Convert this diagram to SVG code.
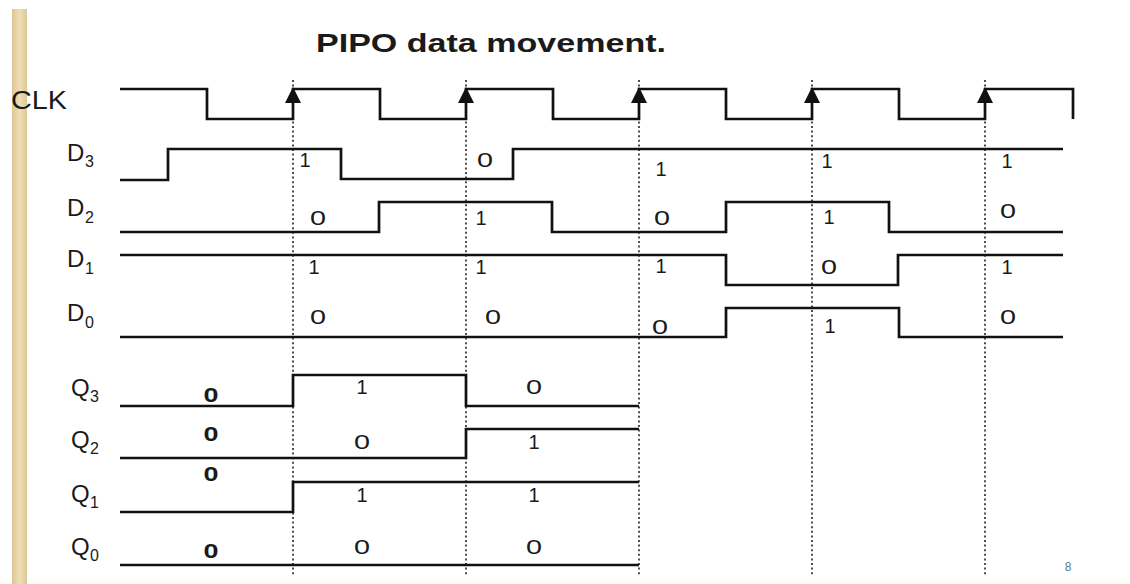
<svg xmlns="http://www.w3.org/2000/svg" width="1130" height="584" viewBox="0 0 1130 584">
  <style>
    .wave { fill: none; stroke: #111; stroke-width: 2.7; stroke-linejoin: miter; stroke-linecap: butt; }
    .edge { fill: none; stroke: #222; stroke-width: 1.6; stroke-dasharray: 2 2.6; }
    .txt  { font-family: "Liberation Sans", Arial, Helvetica, sans-serif; fill: #1a1a1a; }
    .sig  { font-size: 24px; }
    .sub  { font-size: 16px; }
    .val  { font-size: 20px; text-anchor: middle; }
    .init { font-size: 20px; font-weight: bold; text-anchor: middle; }
    .arrow { fill: #111; }
  </style>
  <defs>
    <linearGradient id="barShade" x1="0" y1="0" x2="1" y2="0">
      <stop offset="0" stop-color="#dcc592"/>
      <stop offset="0.5" stop-color="#eedeb6"/>
      <stop offset="1" stop-color="#ddc898"/>
    </linearGradient>
    <!-- rising-edge marker: filled upward triangle centred on its tip -->
    <path id="edgeArrow" class="arrow" d="M0,-1 L-8,15 L8,15 Z"/>
  </defs>

  <!-- page background -->
  <rect x="0" y="0" width="1130" height="584" fill="#ffffff"/>
  <rect x="0" y="579" width="1130" height="5" fill="#fdfcf5"/>
  <rect x="12" y="9" width="15" height="575" fill="url(#barShade)"/>

  <!-- title -->
  <text class="txt" x="316" y="52" font-size="26" font-weight="bold" textLength="350" lengthAdjust="spacingAndGlyphs">PIPO data movement.</text>

  <!-- sampling instants at each rising clock edge -->
  <g id="connectors">
    <line class="edge" x1="293" y1="80" x2="293" y2="575"/>
    <line class="edge" x1="466" y1="80" x2="466" y2="575"/>
    <line class="edge" x1="639" y1="80" x2="639" y2="575"/>
    <line class="edge" x1="812" y1="80" x2="812" y2="575"/>
    <line class="edge" x1="985" y1="80" x2="985" y2="575"/>
  </g>

  <!-- clock -->
  <g id="clk">
    <text class="txt" x="11" y="109" font-size="26" textLength="56" lengthAdjust="spacingAndGlyphs">CLK</text>
    <path class="wave" d="M120,89 H207 V119 H293 V89 H380 V119 H466 V89 H553 V119 H639 V89 H726 V119 H812 V89 H899 V119 H985 V89 H1073 V119"/>
    <use href="#edgeArrow" x="293" y="88"/>
    <use href="#edgeArrow" x="466" y="88"/>
    <use href="#edgeArrow" x="639" y="88"/>
    <use href="#edgeArrow" x="812" y="88"/>
    <use href="#edgeArrow" x="985" y="88"/>
  </g>

  <!-- parallel data inputs -->
  <g id="d3">
    <text class="txt sig" x="67" y="161">D</text><text class="txt sub" x="85" y="167">3</text>
    <path class="wave" d="M120,180 H168 V149 H341 V179 H513 V149 H1063"/>
    <text class="txt val" x="305" y="167">1</text>
    <text class="txt val" x="485" y="167" textLength="16" lengthAdjust="spacingAndGlyphs">0</text>
    <text class="txt val" x="661" y="176">1</text>
    <text class="txt val" x="827" y="168">1</text>
    <text class="txt val" x="1007" y="168">1</text>
  </g>

  <g id="d2">
    <text class="txt sig" x="67" y="216">D</text><text class="txt sub" x="85" y="223">2</text>
    <path class="wave" d="M120,232 H379 V202 H552 V232 H726 V202 H889 V232 H1063"/>
    <text class="txt val" x="318" y="225" textLength="16" lengthAdjust="spacingAndGlyphs">0</text>
    <text class="txt val" x="481" y="225">1</text>
    <text class="txt val" x="662" y="225" textLength="16" lengthAdjust="spacingAndGlyphs">0</text>
    <text class="txt val" x="829" y="224">1</text>
    <text class="txt val" x="1008" y="218" textLength="16" lengthAdjust="spacingAndGlyphs">0</text>
  </g>

  <g id="d1">
    <text class="txt sig" x="67" y="267">D</text><text class="txt sub" x="85" y="274">1</text>
    <path class="wave" d="M120,255 H726 V285 H898 V255 H1063"/>
    <text class="txt val" x="314" y="274">1</text>
    <text class="txt val" x="481" y="274">1</text>
    <text class="txt val" x="661" y="273">1</text>
    <text class="txt val" x="829" y="274" textLength="16" lengthAdjust="spacingAndGlyphs">0</text>
    <text class="txt val" x="1007" y="274">1</text>
  </g>

  <g id="d0">
    <text class="txt sig" x="67" y="321">D</text><text class="txt sub" x="85" y="328">0</text>
    <path class="wave" d="M120,337 H726 V308 H899 V337 H1063"/>
    <text class="txt val" x="318" y="324" textLength="16" lengthAdjust="spacingAndGlyphs">0</text>
    <text class="txt val" x="493" y="324" textLength="16" lengthAdjust="spacingAndGlyphs">0</text>
    <text class="txt val" x="660" y="334" textLength="16" lengthAdjust="spacingAndGlyphs">0</text>
    <text class="txt val" x="830" y="333">1</text>
    <text class="txt val" x="1008" y="324" textLength="16" lengthAdjust="spacingAndGlyphs">0</text>
  </g>

  <!-- parallel outputs -->
  <g id="q3">
    <text class="txt sig" x="71" y="396">Q</text><text class="txt sub" x="90" y="402">3</text>
    <path class="wave" d="M120,406 H293 V375 H466 V406 H639"/>
    <text class="txt init" x="211" y="402" textLength="15" lengthAdjust="spacingAndGlyphs">0</text>
    <text class="txt val" x="362" y="394">1</text>
    <text class="txt val" x="534" y="394" textLength="16" lengthAdjust="spacingAndGlyphs">0</text>
  </g>

  <g id="q2">
    <text class="txt sig" x="71" y="448">Q</text><text class="txt sub" x="90" y="454">2</text>
    <path class="wave" d="M120,458 H466 V429 H639"/>
    <text class="txt init" x="211" y="441" textLength="15" lengthAdjust="spacingAndGlyphs">0</text>
    <text class="txt val" x="362" y="449" textLength="16" lengthAdjust="spacingAndGlyphs">0</text>
    <text class="txt val" x="534" y="449">1</text>
  </g>

  <g id="q1">
    <text class="txt sig" x="71" y="502">Q</text><text class="txt sub" x="90" y="508">1</text>
    <path class="wave" d="M120,512 H293 V482 H639"/>
    <text class="txt init" x="211" y="481" textLength="15" lengthAdjust="spacingAndGlyphs">0</text>
    <text class="txt val" x="362" y="502">1</text>
    <text class="txt val" x="534" y="502">1</text>
  </g>

  <g id="q0">
    <text class="txt sig" x="71" y="555">Q</text><text class="txt sub" x="90" y="561">0</text>
    <path class="wave" d="M120,565 H639"/>
    <text class="txt init" x="211" y="558" textLength="15" lengthAdjust="spacingAndGlyphs">0</text>
    <text class="txt val" x="362" y="554" textLength="16" lengthAdjust="spacingAndGlyphs">0</text>
    <text class="txt val" x="534" y="554" textLength="16" lengthAdjust="spacingAndGlyphs">0</text>
  </g>

  <!-- slide number -->
  <text class="txt" x="1068" y="571" font-size="12" text-anchor="middle" style="fill:#4f8396">8</text>
</svg>
